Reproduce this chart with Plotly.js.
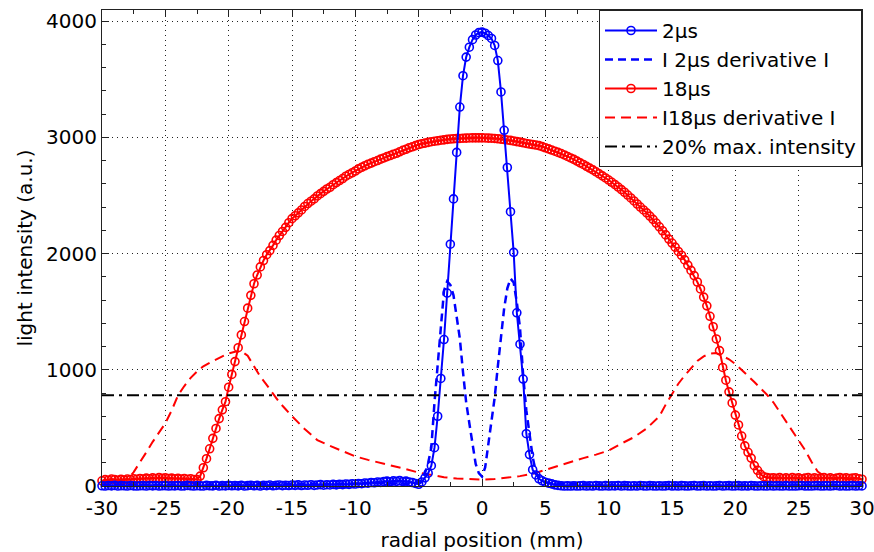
<!DOCTYPE html>
<html>
<head>
<meta charset="utf-8">
<script src="https://cdn.plot.ly/plotly-3.0.1.min.js"></script>
<style>html,body{margin:0;padding:0;background:#fff;}#chart{width:874px;height:552px;}</style>
</head>
<body>
<div id="chart"></div>
<script>
// 2µs and 18µs profiles sampled every 0.25 mm from -30 mm to 30 mm
const profileStart = -30;
const profileStep = 0.25;

const intensity2us = [
  2, 0, 4, 1,   5, 0, 3, 2,   0, 4, 1, 0,   2, 3, 0, 4,   1, 4, 0, 2,
  3, 0, 2, 1,   4, 0, 1, 5,   2, 0, 3, 1,   0, 5, 2, 1,   6, 0, 3, 1,
  5, 2, 4, 1,   6, 0, 3, 7,   2, 5, 0, 6,   3, 8, 2, 5,   9, 3, 7, 4,
  8, 5, 10, 4,   8, 6, 11, 5,   9, 12, 7, 11,   9, 14, 10, 15,   12, 17, 14, 19,
  17, 22, 20, 26,   24, 30, 28, 34,   31, 38, 42, 36,   44, 40, 46, 38,   42, 35, 30, 22,
  15, 35, 70, 110,   175, 330, 600, 925,   1260, 1660, 2080, 2470,   2870, 3260, 3530, 3690,   3775, 3840, 3880, 3900,
  3905, 3895, 3875, 3850,   3790, 3660, 3390, 3060,   2740, 2360, 2010, 1490,   1220, 920, 450, 270,   140, 95, 62, 45,
  32, 25, 18, 10,   5, 2, 0, 1,   0, 2, 0, 1,   3, 0, 2, 0,   4, 1, 0, 3,
  0, 2, 1, 4,   0, 3, 1, 0,   2, 0, 4, 1,   0, 3, 1, 0,   2, 0, 1, 4,
  0, 2, 0, 3,   1, 0, 2, 4,   0, 1, 3, 0,   2, 0, 1, 4,   0, 2, 3, 0,
  1, 3, 0, 2,   0, 4, 1, 0,   2, 1, 0, 3,   0, 2, 1, 0,   3, 0, 1, 0,
  2, 4, 0, 1,   0, 2, 3, 0,   1, 2, 0, 3,   4, 0, 2, 0,   1, 3, 0, 2,
  1
];

const intensity18us = [
  45, 55, 50, 60,   55, 50, 58, 52,   60, 55, 62, 58,   65, 60, 68, 62,   70, 65, 72, 66,
  70, 64, 68, 62,   66, 60, 64, 58,   62, 56, 55, 85,   157, 235, 320, 410,   495, 580, 655, 725,
  850, 960, 1070, 1190,   1300, 1415, 1530, 1640,   1740, 1815, 1885, 1940,   1990, 2025, 2070, 2115,   2155, 2190, 2225, 2265,
  2300, 2325, 2350, 2375,   2405, 2430, 2450, 2470,   2495, 2515, 2535, 2555,   2570, 2592, 2610, 2628,   2645, 2665, 2680, 2695,
  2710, 2728, 2742, 2755,   2768, 2778, 2790, 2800,   2812, 2822, 2834, 2843,   2854, 2862, 2875, 2888,   2897, 2910, 2918, 2928,
  2938, 2945, 2950, 2956,   2962, 2966, 2970, 2975,   2978, 2982, 2985, 2987,   2989, 2990, 2992, 2993,   2994, 2995, 2995, 2995,
  2995, 2994, 2993, 2992,   2990, 2987, 2984, 2981,   2977, 2973, 2968, 2963,   2958, 2953, 2947, 2942,   2938, 2933, 2928, 2920,
  2910, 2900, 2890, 2880,   2870, 2860, 2848, 2835,   2822, 2810, 2795, 2780,   2766, 2750, 2735, 2720,   2703, 2686, 2668, 2650,
  2632, 2613, 2593, 2572,   2550, 2527, 2503, 2478,   2452, 2426, 2400, 2375,   2350, 2322, 2294, 2262,   2230, 2196, 2160, 2124,
  2090, 2055, 2018, 1985,   1945, 1900, 1855, 1810,   1755, 1695, 1625, 1550,   1460, 1370, 1265, 1165,   1020, 910, 810, 715,
  610, 525, 430, 345,   290, 240, 175, 135,   100, 80, 72, 68,   70, 66, 72, 65,   70, 64, 72, 66,
  70, 63, 68, 72,   65, 70, 64, 68,   72, 65, 70, 63,   68, 72, 66, 70,   64, 68, 70, 62,
  58
];

// |derivative| curves
const deriv2usX = [-30, -25, -20, -15, -10, -8, -6, -5, -4.75, -4.5, -4.25, -4, -3.75, -3.5, -3.25, -3, -2.75, -2.5, -2.25, -2,
  -1.75, -1.5, -1.25, -1, -0.75, -0.5, -0.25, 0, 0.25, 0.5, 0.75, 1, 1.25, 1.5, 1.75, 2, 2.25, 2.5, 2.75, 3,
  3.25, 3.5, 3.75, 4, 4.25, 4.5, 4.75, 5, 6, 8, 10, 15, 20, 25, 30];
const deriv2usY = [10, 10, 15, 15, 20, 25, 20, 30, 60, 110, 200, 330, 720, 1030, 1380, 1680, 1760, 1730, 1640, 1470,
  1270, 980, 720, 540, 370, 190, 110, 80, 160, 350, 540, 760, 1030, 1300, 1530, 1700, 1785, 1750, 1580, 1360,
  950, 650, 470, 250, 120, 70, 45, 30, 20, 15, 10, 10, 10, 10, 10];

const deriv18usX = [-30, -29, -28.5, -28, -27.5, -27, -26.5, -26, -25.5, -25, -24.5, -24, -23.5, -23, -22.5, -22, -21.5, -21, -20.5, -20,
  -19.5, -19, -18.5, -18, -17.5, -17, -16.5, -16, -15.5, -15, -14, -13, -12, -11, -10, -9, -8, -7, -6, -5,
  -4, -3, -2, -1, 0, 1, 2, 3, 4, 5, 6, 7, 8, 9, 10, 11, 12, 13, 14, 14.5,
  15, 15.5, 16, 16.5, 17, 17.5, 18, 18.5, 19, 19.5, 20, 20.5, 21, 21.5, 22, 22.5, 23, 23.5, 24, 24.5,
  25, 25.5, 26, 26.5, 27, 27.5, 28, 29, 30];
const deriv18usY = [40, 45, 50, 55, 120, 200, 290, 380, 460, 540, 650, 780, 860, 930, 985, 1030, 1060, 1090, 1115, 1140,
  1155, 1160, 1120, 1030, 940, 870, 790, 720, 660, 600, 490, 395, 345, 300, 255, 225, 200, 170, 145, 115,
  95, 75, 65, 58, 55, 60, 70, 85, 105, 140, 175, 205, 240, 270, 305, 365, 420, 495, 600, 700,
  790, 880, 950, 1015, 1075, 1115, 1140, 1145, 1120, 1090, 1050, 1000, 950, 895, 840, 785, 720, 640, 560, 470,
  390, 310, 210, 125, 85, 68, 60, 55, 55];

const thresholdX = [-30, 30];
const thresholdY = [780, 780];

const xTickVals = [-30, -25, -20, -15, -10, -5, 0, 5, 10, 15, 20, 25, 30];
const yTickVals = [0, 1000, 2000, 3000, 4000];

const seriesNames = ['2\u00b5s', 'I 2\u00b5s derivative I', '18\u00b5s', 'I18\u00b5s derivative I', '20% max. intensity'];

const FONT = 'DejaVu Sans';
const BLUE = '#0000ff', RED = '#ff0000';

const traces = [
  {type: 'scatter', mode: 'lines+markers', name: seriesNames[2], x0: profileStart, dx: profileStep, y: intensity18us,
   line: {color: RED, width: 2}, marker: {symbol: 'circle-open', size: 8, color: RED, line: {width: 1.6, color: RED}},
   cliponaxis: false, legendrank: 3, legendgroup: 'c'},
  {type: 'scatter', mode: 'lines', name: seriesNames[3], x: deriv18usX, y: deriv18usY,
   line: {color: RED, width: 2, dash: '10px,6px'}, legendrank: 4, legendgroup: 'd'},
  {type: 'scatter', mode: 'lines+markers', name: seriesNames[0], x0: profileStart, dx: profileStep, y: intensity2us,
   line: {color: BLUE, width: 2}, marker: {symbol: 'circle-open', size: 8, color: BLUE, line: {width: 1.6, color: BLUE}},
   cliponaxis: false, legendrank: 1, legendgroup: 'a'},
  {type: 'scatter', mode: 'lines', name: seriesNames[1], x: deriv2usX, y: deriv2usY,
   line: {color: BLUE, width: 2.5, dash: '8px,5px'}, legendrank: 2, legendgroup: 'b'},
  {type: 'scatter', mode: 'lines', name: seriesNames[4], x: thresholdX, y: thresholdY,
   line: {color: '#000000', width: 2, dash: '12px,5px,3px,5px'}, legendrank: 5, legendgroup: 'e'}
];

const axisCommon = {
  showline: true, linecolor: '#222', linewidth: 1, mirror: 'allticks',
  ticks: 'inside', ticklen: 7, tickcolor: '#222', tickwidth: 1,
  showgrid: true, gridcolor: '#222', gridwidth: 1, griddash: '1px,4px',
  zeroline: false, ticklabeloverflow: 'allow',
  tickfont: {family: FONT, size: 20, color: '#000'},
  automargin: false
};

const layout = {
  width: 874, height: 552,
  margin: {l: 102, r: 12, t: 10, b: 66},
  paper_bgcolor: '#fff', plot_bgcolor: '#fff',
  font: {family: FONT, size: 20, color: '#000'},
  showlegend: true,
  legend: {x: 1, xanchor: 'right', y: 1, yanchor: 'top', bgcolor: '#fff', bordercolor: '#222', borderwidth: 1,
           font: {family: FONT, size: 20, color: '#000'}, tracegroupgap: 5, traceorder: 'normal', itemwidth: 52},
  xaxis: Object.assign({}, axisCommon, {
    range: [-30, 30], tickmode: 'array', tickvals: xTickVals, ticktext: xTickVals.map(String),
    ticklabelstandoff: 4,
    minor: {dtick: 2.5, tick0: 0, ticks: 'inside', ticklen: 4, tickcolor: '#222', showgrid: false},
    title: {text: 'radial position (mm)', font: {family: FONT, size: 20, color: '#000'}, standoff: 14}
  }),
  yaxis: Object.assign({}, axisCommon, {
    range: [0, 4095], tickmode: 'array', tickvals: yTickVals, ticktext: yTickVals.map(String),
    minor: {dtick: 200, tick0: 0, ticks: 'inside', ticklen: 4, tickcolor: '#222', showgrid: false},
    title: {text: 'light intensity (a.u.)', font: {family: FONT, size: 20, color: '#000'}, standoff: 8}
  })
};

Plotly.newPlot('chart', traces, layout, {displayModeBar: false, staticPlot: true});
</script>
</body>
</html>
